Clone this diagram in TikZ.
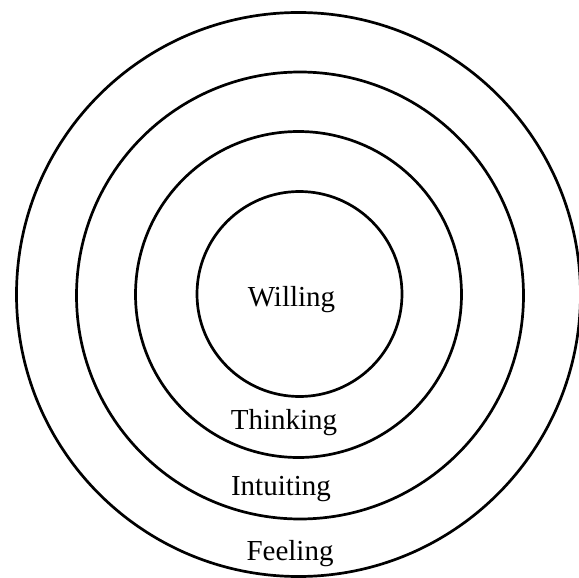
\documentclass[tikz,border=0pt]{standalone}
\usepackage{fontspec}
\setmainfont{Liberation Serif}
\begin{document}
\begin{tikzpicture}[x=1pt,y=-1pt,
  ring/.style={circle, draw, line width=2.7pt, inner sep=0pt, minimum size=#1},
  lbl/.style={anchor=base, inner sep=0pt, font=\fontsize{29}{34}\selectfont}]
\useasboundingbox (0,0) rectangle (579,578);
\coordinate (c) at (298.5,294.5);
\node[ring=564pt] (feel) at (c) {};
\node[ring=447pt] (intu) at (300,295.5) {};
\node[ring=326pt] (think) at (c) {};
\node[ring=205pt] (will) at (299.5,294) {};
\node[lbl] (tw) at (291.5,306) {Willing};
\node[lbl] (tt) at (284,429) {Thinking};
\node[lbl] (ti) at (281,495) {Intuiting};
\node[lbl] (tf) at (290,560) {Feeling};
\end{tikzpicture}
\end{document}
